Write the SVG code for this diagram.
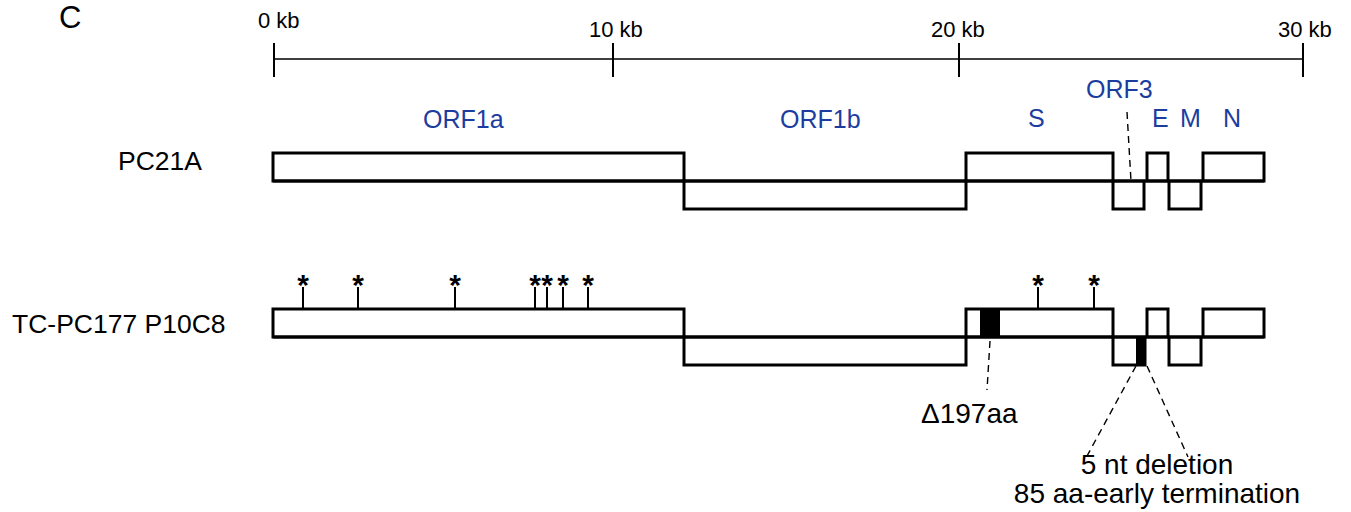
<svg xmlns="http://www.w3.org/2000/svg" width="1351" height="512" viewBox="0 0 1351 512">
<style>
text{font-family:"Liberation Sans",Arial,sans-serif;fill:#000}
.scl{font-size:22px}
.orf{font-size:25px;fill:#1c3d9f}
.lbl{font-size:26.5px}
.ann{font-size:28px}
.ast{font-size:30px;font-weight:bold;text-anchor:middle}
.box{fill:none;stroke:#000;stroke-width:3;stroke-linejoin:miter}
.tk{stroke:#000;stroke-width:2}
.dash{fill:none;stroke:#000;stroke-width:1.4;stroke-dasharray:7 5}
</style>
<rect width="1351" height="512" fill="#fff"/>
<text x="59" y="28" style="font-size:31px">C</text>
<g id="scale">
<line x1="274" y1="59" x2="1303" y2="59" stroke="#000" stroke-width="1.5"/>
<line class="tk" x1="274" y1="43" x2="274" y2="77"/>
<line class="tk" x1="613" y1="43" x2="613" y2="77"/>
<line class="tk" x1="959" y1="43" x2="959" y2="77"/>
<line class="tk" x1="1303" y1="43" x2="1303" y2="77"/>
<text class="scl" x="258" y="28">0 kb</text>
<text class="scl" x="589" y="37">10 kb</text>
<text class="scl" x="931" y="37">20 kb</text>
<text class="scl" x="1278" y="37">30 kb</text>
</g>
<g id="orf-labels">
<text class="orf" x="423" y="128">ORF1a</text>
<text class="orf" x="780" y="128">ORF1b</text>
<text class="orf" x="1028" y="127">S</text>
<text class="orf" x="1086" y="98">ORF3</text>
<text class="orf" x="1152" y="127">E</text>
<text class="orf" x="1180" y="127">M</text>
<text class="orf" x="1223" y="127">N</text>
</g>
<g id="PC21A">
<text class="lbl" x="118" y="170">PC21A</text>
<line x1="273" y1="181" x2="1264" y2="181" stroke="#000" stroke-width="3"/>
<rect class="box" x="273" y="153" width="411" height="28"/>
<rect class="box" x="684" y="181" width="282" height="28"/>
<rect class="box" x="966" y="153" width="147" height="28"/>
<rect class="box" x="1113" y="181" width="31" height="28"/>
<rect class="box" x="1147" y="153" width="21" height="28"/>
<rect class="box" x="1169" y="181" width="32" height="28"/>
<rect class="box" x="1203" y="153" width="61" height="28"/>
</g>
<g id="TC-PC177">
<text class="lbl" x="12" y="333">TC-PC177 P10C8</text>
<line x1="273" y1="337" x2="1264" y2="337" stroke="#000" stroke-width="3"/>
<rect x="980" y="309" width="20" height="28" fill="#000"/>
<rect x="1136" y="337" width="9" height="28" fill="#000"/>
<rect class="box" x="273" y="309" width="411" height="28"/>
<rect class="box" x="684" y="337" width="282" height="28"/>
<rect class="box" x="966" y="309" width="147" height="28"/>
<rect class="box" x="1113" y="337" width="32" height="28"/>
<rect class="box" x="1147" y="309" width="21" height="28"/>
<rect class="box" x="1169" y="337" width="32" height="28"/>
<rect class="box" x="1203" y="309" width="61" height="28"/>
<g class="tk">
<line x1="303" y1="287" x2="303" y2="309"/>
<line x1="358" y1="287" x2="358" y2="309"/>
<line x1="455" y1="287" x2="455" y2="309"/>
<line x1="535" y1="287" x2="535" y2="309"/>
<line x1="547" y1="287" x2="547" y2="309"/>
<line x1="563" y1="287" x2="563" y2="309"/>
<line x1="588" y1="287" x2="588" y2="309"/>
<line x1="1038" y1="287" x2="1038" y2="309"/>
<line x1="1094" y1="287" x2="1094" y2="309"/>
</g>
<text class="ast" x="303" y="295">*</text>
<text class="ast" x="358" y="295">*</text>
<text class="ast" x="455" y="295">*</text>
<text class="ast" x="535" y="295">*</text>
<text class="ast" x="547" y="295">*</text>
<text class="ast" x="563" y="295">*</text>
<text class="ast" x="588" y="295">*</text>
<text class="ast" x="1038" y="295">*</text>
<text class="ast" x="1094" y="295">*</text>
</g>
<g id="connectors">
<line class="dash" x1="1127" y1="112" x2="1131" y2="181"/>
<line class="dash" x1="990" y1="341" x2="987" y2="390"/>
<line class="dash" x1="1136" y1="366" x2="1087" y2="456"/>
<line class="dash" x1="1147" y1="366" x2="1188" y2="457"/>
</g>
<g id="annotations">
<text class="ann" x="921" y="423">Δ197aa</text>
<text class="ann" x="1157" y="474" text-anchor="middle">5 nt deletion</text>
<text class="ann" x="1157" y="503" text-anchor="middle">85 aa-early termination</text>
</g>
</svg>
